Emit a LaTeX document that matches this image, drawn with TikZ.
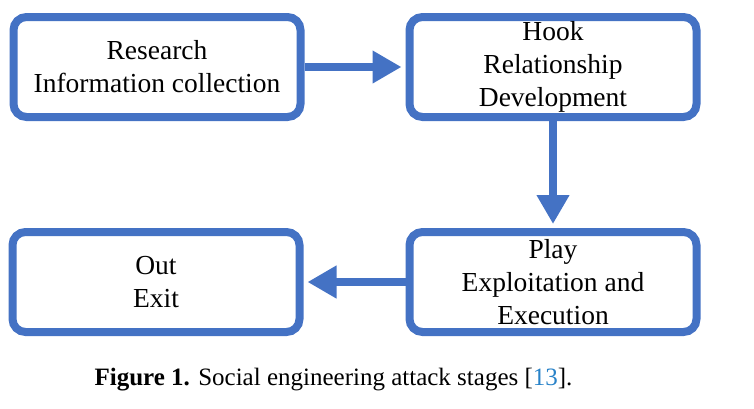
\documentclass[tikz,border=0pt]{standalone}
\usepackage{fontspec}
\setmainfont{Liberation Serif}
\usepackage{xcolor}
\usetikzlibrary{arrows.meta,positioning}
\definecolor{stageblue}{RGB}{68,114,196}
\definecolor{citeblue}{RGB}{40,130,200}

\begin{document}
\begin{tikzpicture}[
	x=1pt, y=-1pt,
	every node/.style = {align=center},
	stagebox/.style = {shape=rectangle, rounded corners=13pt,
	draw=stageblue, line width=8pt, fill=white,
	minimum width=287pt, minimum height=100pt,
	font=\fontsize{27.5}{33}\selectfont},
	flowarrow/.style = {draw=stageblue, line width=8pt,
	-{Triangle[length=29pt,width=31pt]}, shorten >=4pt}
]
\useasboundingbox (0,0) rectangle (754,408);
\node[stagebox] (research) at (157,67) {Research\\Information collection};
\node[stagebox] (hook) at (553,67) {Hook\\Relationship\\Development};
\node[stagebox] (play) at (553,282) {Play\\Exploitation and\\Execution};
\node[stagebox] (out) at (156,282) {Out\\Exit};
\draw[flowarrow] (research.east) -- (hook.west);
\draw[flowarrow] (hook.south) -- (play.north);
\draw[flowarrow] (play.west) -- (out.east);
% caption
\node[anchor=base, font=\fontsize{25}{30}\selectfont] (caption) at (333.5,385)
	{\textbf{Figure 1.} Social engineering attack stages [\textcolor{citeblue}{13}].};
\end{tikzpicture}
\end{document}
